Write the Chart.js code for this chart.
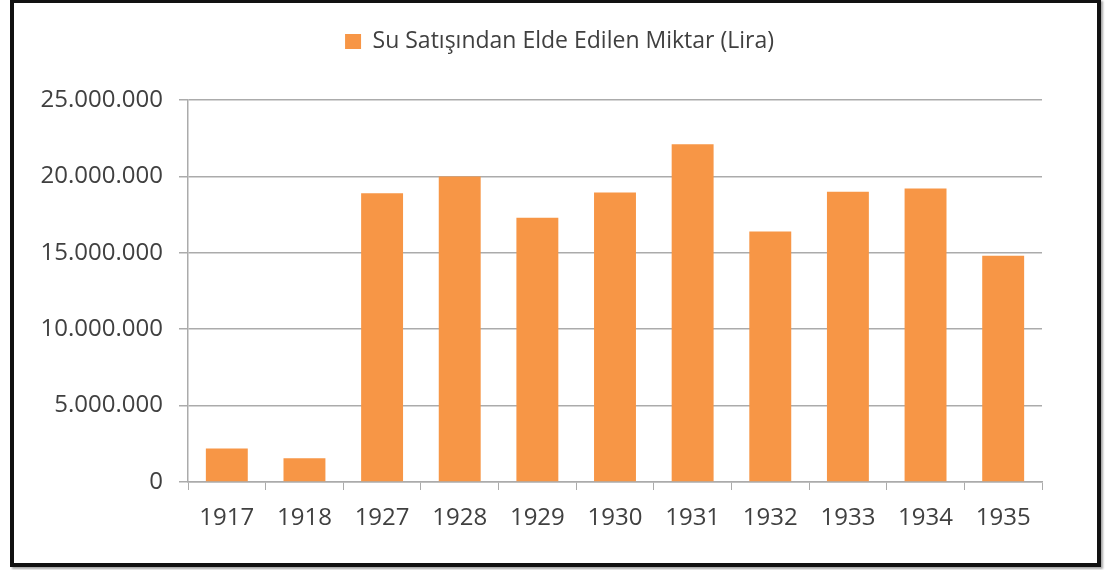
<!DOCTYPE html>
<html>
<head>
<meta charset="utf-8">
<script src="https://cdn.jsdelivr.net/npm/chart.js@4"></script>
<style>
  html, body { margin: 0; padding: 0; background: #fff; }
  #frame {
    position: absolute; left: 10px; top: -1px; width: 1091px; height: 568px;
    box-sizing: border-box; border: 4px solid #111;
    box-shadow: 2px 2px 2px rgba(0,0,0,0.35);
  }
  #wrap { position: absolute; left: 0; top: 0; width: 1105px; height: 570px; }
</style>
</head>
<body>
<div id="frame"></div>
<div id="wrap"><canvas id="chart"></canvas></div>
<script>
const years = ['1917', '1918', '1927', '1928', '1929', '1930', '1931', '1932', '1933', '1934', '1935'];
const amounts = [2200000, 1550000, 18900000, 20000000, 17300000, 18950000, 22100000, 16400000, 19000000, 19200000, 14800000];
const seriesLabel = 'Su Satışından Elde Edilen Miktar (Lira)';

const textColor = '#404040';
const lineColor = '#ababab';
const fontFamily = '"Open Sans", "Noto Sans", sans-serif';

// 25000000 -> 25.000.000
const formatDots = (v) => String(v).replace(/\B(?=(\d{3})+(?!\d))/g, '.');

// extra space between legend and plot area, and nudge legend right
const legendGap = {
  id: 'legendGap',
  beforeInit(chart) {
    const fit = chart.legend.fit;
    chart.legend.fit = function () {
      fit.bind(chart.legend)();
      this.height += 37;
    };
  },
  afterLayout(chart) {
    chart.legend.left += 57;
  }
};

const ctx = document.getElementById('chart').getContext('2d');
new Chart(ctx, {
  type: 'bar',
  data: {
    labels: years,
    datasets: [{
      label: seriesLabel,
      data: amounts,
      backgroundColor: '#F79646',
      borderWidth: 0,
      barPercentage: 0.54,
      categoryPercentage: 1
    }]
  },
  options: {
    responsive: true,
    maintainAspectRatio: false,
    animation: false,
    layout: { padding: { left: 20, right: 63, top: 20, bottom: 0 } },
    plugins: {
      legend: {
        position: 'top',
        labels: {
          color: textColor,
          font: { family: fontFamily, size: 23 },
          boxWidth: 16,
          boxHeight: 15,
          padding: 10
        }
      },
      tooltip: { enabled: false }
    },
    scales: {
      x: {
        grid: {
          display: true,
          drawOnChartArea: false,
          drawTicks: true,
          tickLength: 8,
          color: lineColor,
          offset: true
        },
        border: { color: lineColor, width: 1.5 },
        ticks: {
          color: textColor,
          font: { family: fontFamily, size: 24 },
          padding: 14,
          maxRotation: 0
        },
        afterFit: (scale) => { scale.height = 88; }
      },
      y: {
        min: 0,
        max: 25000000,
        grid: {
          color: lineColor,
          lineWidth: 1.5,
          tickLength: 9
        },
        border: { color: lineColor, width: 1.5 },
        ticks: {
          stepSize: 5000000,
          color: textColor,
          font: { family: fontFamily, size: 24 },
          padding: 16,
          callback: (v) => formatDots(v)
        },
        afterFit: (scale) => { scale.width = 168; }
      }
    }
  },
  plugins: [legendGap]
});
</script>
</body>
</html>
